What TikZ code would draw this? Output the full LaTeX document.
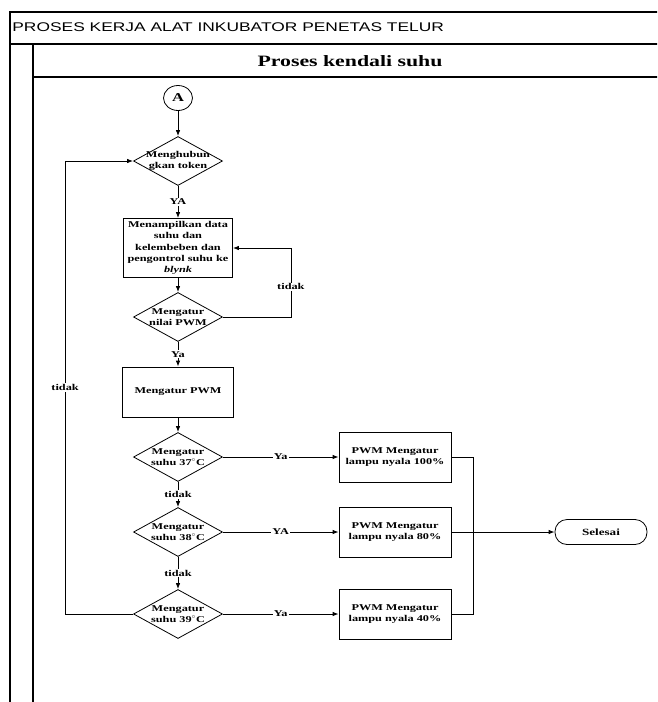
\documentclass[tikz,border=0pt]{standalone}
\usepackage{fontspec}
\setmainfont{Liberation Serif}[FakeStretch=1.38]
\newfontfamily\headfont{Liberation Sans}[FakeStretch=1.38]
\usetikzlibrary{shapes.geometric, positioning, arrows.meta}
\tikzset{
>={Latex[length=6pt,width=4.5pt]}, % small filled arrow heads
every node/.style={font=\fontsize{8.9}{11.3}\selectfont\bfseries, align=center}, % bold serif text
decision/.style={diamond, draw, minimum width=89pt, minimum height=49pt, inner sep=0pt}, % the question boxes
process/.style={rectangle, draw, minimum width=111pt, minimum height=50pt, inner sep=2pt}, % the action boxes
connector/.style={ellipse, draw, minimum width=29pt, minimum height=25pt, inner sep=0pt, font=\fontsize{12}{14}\selectfont\bfseries}, % off page mark
terminal/.style={rectangle, draw, rounded corners=12pt, minimum width=92pt, minimum height=25pt, font=\fontsize{9.5}{11}\selectfont\bfseries}, % end mark
lbl/.style={fill=white, inner sep=1pt}, % text on a connector
frame/.style={line width=1.2pt}, % swimlane lines
}

\begin{document}
\begin{tikzpicture}[x=1pt, y=-1pt, line width=0.8pt, node distance=75pt]
    \useasboundingbox (0,0) rectangle (657,702);
    \clip (0,0) rectangle (657,702);
    % Swimlane
    \draw[frame] (700,12) -- (10,12) -- (10,720);
    \draw[frame] (10,44) -- (700,44);
    \draw[frame] (33,44) -- (33,720);
    \draw[frame] (33,77) -- (700,77);
    \node[anchor=west, font=\headfont\fontsize{12.6}{15}\selectfont, inner sep=0pt] (head) at (12,27) {PROSES KERJA ALAT INKUBATOR PENETAS TELUR};
    \node[font=\fontsize{15.8}{19}\selectfont\bfseries] (lane) at (350,61) {Proses kendali suhu};
    % Flow
    \node[connector] (a) at (178,98) {A};
    \node[decision, below of=a, node distance=63pt, label={center:Menghubun\\gkan token}] (token) {};
    \node[process, below of=token, node distance=87pt, minimum width=109pt, minimum height=59pt] (tampil) {Menampilkan data\\suhu dan\\kelembeben dan\\pengontrol suhu ke\\\textit{blynk}};
    \node[decision, below of=tampil, node distance=69pt, label={center:Mengatur\\nilai PWM}] (pwm) {};
    \node[process, below of=pwm] (atur) {Mengatur PWM};
    \node[decision, below of=atur, node distance=65pt, label={center:Mengatur\\suhu 37$^{\circ}$C}] (d37) {};
    \node[decision, below of=d37, label={center:Mengatur\\suhu 38$^{\circ}$C}] (d38) {};
    \node[decision, below of=d38, node distance=82pt, label={center:Mengatur\\suhu 39$^{\circ}$C}] (d39) {};
    \node[process, right of=d37, node distance=217pt, minimum width=112pt] (r100) {PWM Mengatur\\lampu nyala 100\%};
    \node[process, right of=d38, node distance=217pt, minimum width=112pt] (r80) {PWM Mengatur\\lampu nyala 80\%};
    \node[process, right of=d39, node distance=217pt, minimum width=112pt] (r40) {PWM Mengatur\\lampu nyala 40\%};
    \node[terminal, right of=r80, node distance=206pt] (selesai) {Selesai};
    \draw[->] (a) -- (token);
    \draw[->] (token) -- node[lbl]{YA} (tampil);
    \draw[->] (tampil) -- (pwm);
    \draw[->] (pwm.east) -- ++(68,0) |- node[lbl, pos=0.22]{tidak} (tampil.east);
    \draw[->] (pwm) -- node[lbl]{Ya} (atur);
    \draw[->] (atur) -- (d37);
    \draw[->] (d37) -- node[lbl]{tidak} (d38);
    \draw[->] (d38) -- node[lbl]{tidak} (d39);
    \draw[->] (d37) -- node[lbl]{Ya} (r100);
    \draw[->] (d38) -- node[lbl]{YA} (r80);
    \draw[->] (d39) -- node[lbl]{Ya} (r40);
    \draw[->] (d39.west) -- ++(-68,0) |- node[lbl, pos=0.25]{tidak} (token.west);
    \draw (r100.east) -- ++(22,0) |- (r40.east);
    \draw[->] (r80) -- (selesai);
\end{tikzpicture}
\end{document}
